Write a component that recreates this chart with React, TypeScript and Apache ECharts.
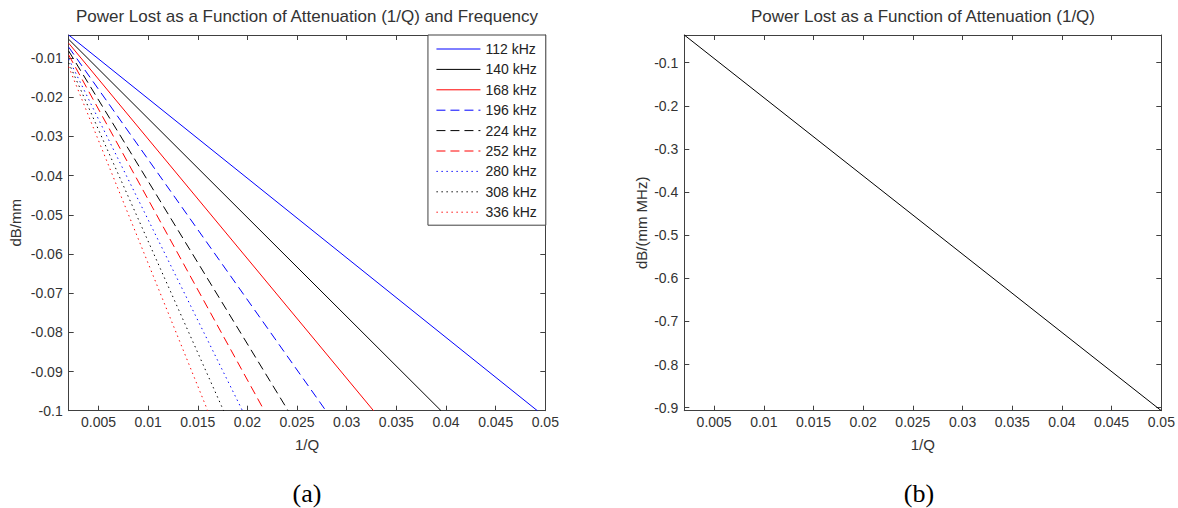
import React, { useEffect, useRef } from "react";
import * as echarts from "echarts";

// ---- data ----
const freqLabels = ["112 kHz", "140 kHz", "168 kHz", "196 kHz", "224 kHz", "252 kHz", "280 kHz", "308 kHz", "336 kHz"];
const freqColors = ["#0000ff", "#000000", "#ff0000", "#0000ff", "#000000", "#ff0000", "#0000ff", "#000000", "#ff0000"];
const freqDash = ["solid", "solid", "solid", "dashed", "dashed", "dashed", "dotted", "dotted", "dotted"];
const qStart = 0.002;
const lossAtStart = [-0.0041, -0.0052, -0.0062, -0.0072, -0.0082, -0.0092, -0.0102, -0.0112, -0.0122];
const qAtLimit = [0.0492, 0.0395, 0.0327, 0.0279, 0.0241, 0.0217, 0.0195, 0.0176, 0.016];
const lossLimit = -0.1;

const normQ = [0.002, 0.05];
const normLoss = [-0.0357, -0.907];

const titleA = "Power Lost as a Function of Attenuation (1/Q) and Frequency";
const titleB = "Power Lost as a Function of Attenuation (1/Q)";

const FONT = '"Liberation Sans", Arial, Helvetica, sans-serif';
const SERIF = '"Liberation Serif", "Times New Roman", serif';
const AX = "#404040";
const TXT = "#333333";

const fmt = (v: number) => String(Number(v.toPrecision(6)));

function dashOf(t: string): any {
  if (t === "dashed") return [9, 5];
  if (t === "dotted") return [1.4, 3.6];
  return "solid";
}

function xAxisPair(grid: number, min: number, max: number) {
  const common = {
    type: "value",
    gridIndex: grid,
    min,
    max,
    splitNumber: 10,
    splitLine: { show: false },
    axisLine: { show: true, onZero: false, lineStyle: { color: AX, width: 1 } },
    axisTick: { show: true, inside: true, length: 5, lineStyle: { color: AX, width: 1 } },
  };
  return [
    {
      ...common,
      position: "bottom",
      name: "1/Q",
      nameLocation: "middle",
      nameGap: 26,
      nameTextStyle: { fontFamily: FONT, fontSize: 15, color: TXT },
      axisLabel: { show: true, fontFamily: FONT, fontSize: 14, color: TXT, margin: 4, showMinLabel: false, showMaxLabel: true, formatter: fmt },
    },
    { ...common, position: "top", axisLabel: { show: false } },
  ];
}

function yAxisPair(grid: number, min: number, max: number, split: number, name: string, gap: number, showMin: boolean) {
  const common = {
    type: "value",
    gridIndex: grid,
    min,
    max,
    splitNumber: split,
    splitLine: { show: false },
    axisLine: { show: true, onZero: false, lineStyle: { color: AX, width: 1 } },
    axisTick: { show: true, inside: true, length: 5, lineStyle: { color: AX, width: 1 } },
  };
  return [
    {
      ...common,
      position: "left",
      name,
      nameLocation: "middle",
      nameGap: gap,
      nameTextStyle: { fontFamily: FONT, fontSize: 15, color: TXT },
      axisLabel: { show: true, fontFamily: FONT, fontSize: 14, color: TXT, margin: 6, showMinLabel: showMin, showMaxLabel: false, formatter: fmt },
    },
    { ...common, position: "right", axisLabel: { show: false } },
  ];
}

export default function App() {
  const ref = useRef<HTMLDivElement>(null);

  useEffect(() => {
    if (!ref.current) return;
    const chart = echarts.init(ref.current, undefined, { renderer: "svg" });

    const seriesA = freqLabels.map((label, i) => ({
      name: label,
      type: "line",
      xAxisIndex: 0,
      yAxisIndex: 0,
      symbol: "none",
      silent: true,
      clip: true,
      lineStyle: { color: freqColors[i], width: 1, type: dashOf(freqDash[i]) },
      itemStyle: { color: freqColors[i] },
      data: [
        [qStart, lossAtStart[i]],
        [qAtLimit[i], lossLimit],
      ],
    }));

    const seriesB = {
      name: "normalized",
      type: "line",
      xAxisIndex: 2,
      yAxisIndex: 2,
      symbol: "none",
      silent: true,
      lineStyle: { color: "#000000", width: 1 },
      itemStyle: { color: "#000000" },
      data: normQ.map((q, i) => [q, normLoss[i]]),
    };

    const option: any = {
      animation: false,
      backgroundColor: "#ffffff",
      title: [
        { text: titleA, left: 307, top: 7.5, textAlign: "center", padding: 0, textStyle: { fontFamily: FONT, fontSize: 17, fontWeight: "normal", color: TXT } },
        { text: titleB, left: 923, top: 7.5, textAlign: "center", padding: 0, textStyle: { fontFamily: FONT, fontSize: 17, fontWeight: "normal", color: TXT } },
      ],
      grid: [
        { left: 68.7, top: 35, right: 1178 - 545.3, bottom: 508 - 410.7 },
        { left: 684.3, top: 35, right: 1178 - 1161.3, bottom: 508 - 410.7 },
      ],
      xAxis: [...xAxisPair(0, 0.002, 0.05), ...xAxisPair(1, 0.002, 0.05)],
      yAxis: [
        ...yAxisPair(0, -0.1, -0.0041, 10, "dB/mm", 46, true),
        ...yAxisPair(1, -0.907, -0.0357, 9, "dB/(mm MHz)", 35, false),
      ],
      legend: {
        data: freqLabels,
        orient: "vertical",
        right: 1178 - 545.8,
        top: 35,
        padding: [7, 9, 6, 8],
        itemWidth: 44,
        itemHeight: 14,
        itemGap: 6.4,
        backgroundColor: "#ffffff",
        borderColor: AX,
        borderWidth: 1,
        borderRadius: 0,
        selectedMode: false,
        itemStyle: { opacity: 0, borderWidth: 0 },
        lineStyle: { width: 1 },
        textStyle: { fontFamily: FONT, fontSize: 14, color: "#222" },
      },
      graphic: [
        { type: "text", x: 307, y: 493, style: { text: "(a)", fontFamily: SERIF, fontSize: 26, fill: "#000", textAlign: "center", textVerticalAlign: "middle" } },
        { type: "text", x: 919, y: 493, style: { text: "(b)", fontFamily: SERIF, fontSize: 26, fill: "#000", textAlign: "center", textVerticalAlign: "middle" } },
      ],
      series: [...seriesA, seriesB],
    };

    chart.setOption(option);
    return () => chart.dispose();
  }, []);

  return <div ref={ref} style={{ position: "fixed", left: 0, top: 0, width: 1178, height: 508 }} />;
}
